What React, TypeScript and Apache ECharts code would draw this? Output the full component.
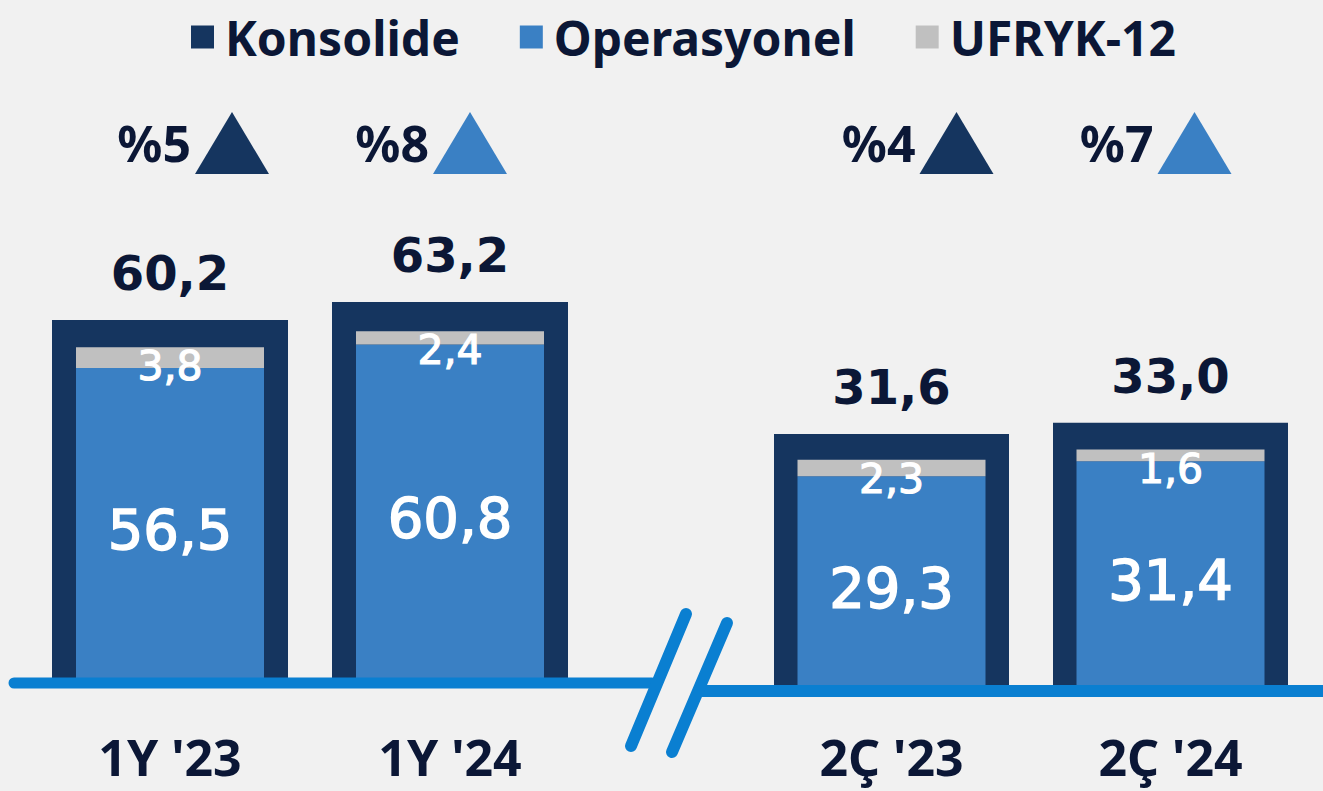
import React, { useEffect, useRef } from "react";
import * as echarts from "echarts";

// ---- data ----
const categoriesLeft = ["1Y '23", "1Y '24"];
const categoriesRight = ["2Ç '23", "2Ç '24"];
const konsolide = [60.2, 63.2, 31.6, 33.0];
const operasyonel = [56.5, 60.8, 29.3, 31.4];
const ufryk = [3.8, 2.4, 2.3, 1.6];
const changeLabels = ["%5", "%8", "%4", "%7"];
const seriesNames = ["Konsolide", "Operasyonel", "UFRYK-12"];

// ---- style ----
const NAVY = "#15355f";
const BLUE = "#3a80c4";
const GRAY = "#c0c0c0";
const TEXT = "#0b1736";
const LINE = "#0a7fd1";
const FONT = "'Noto Sans', 'DejaVu Sans', sans-serif";
const NUMFONT = "'DejaVu Sans', 'Noto Sans', sans-serif";

const fmt = (v: number) => v.toFixed(1).replace(".", ",");

export default function App() {
  const ref = useRef<HTMLDivElement>(null);
  useEffect(() => {
    document.body.style.margin = "0";
    if (!ref.current) return;
    const chart = echarts.init(ref.current, undefined, { renderer: "svg" });

    const outerLabel = {
      show: true,
      position: ["50%", 0],
      align: "center",
      verticalAlign: "middle",
      offset: [0, -47],
      fontFamily: NUMFONT,
      fontSize: 48,
      fontWeight: "bold",
      color: TEXT,
      formatter: (p: any) => fmt(p.value),
    };
    const innerLabel = {
      show: true,
      position: "inside",
      fontFamily: NUMFONT,
      fontSize: 56,
      fontWeight: "normal",
      color: "#ffffff",
      textBorderColor: "#ffffff",
      textBorderWidth: 1.6,
      offset: [0, 5],
      formatter: (p: any) => fmt(p.value),
    };
    const grayLabel = {
      show: true,
      position: ["50%", 0],
      align: "center",
      verticalAlign: "middle",
      offset: [0, 19],
      fontFamily: NUMFONT,
      fontSize: 41,
      fontWeight: "normal",
      color: "#ffffff",
      textBorderColor: "#ffffff",
      textBorderWidth: 1.2,
      formatter: (p: any) => fmt(p.value),
    };
    const pctLabel = (i: number) => ({
      show: true,
      position: "left",
      distance: 4,
      fontFamily: FONT,
      fontSize: 50,
      fontWeight: "bold",
      color: TEXT,
      formatter: () => changeLabels[i],
    });

    const catAxis = (data: string[], gridIndex: number, show: boolean, margin: number) => ({
      type: "category",
      gridIndex,
      data,
      show,
      axisLine: { show: false },
      axisTick: { show: false },
      axisLabel: {
        show,
        margin,
        fontFamily: FONT,
        fontSize: 50,
        fontWeight: "bold",
        color: TEXT,
      },
    });
    const valAxis = (gridIndex: number, max: number) => ({
      type: "value",
      gridIndex,
      min: 0,
      max,
      show: false,
      splitLine: { show: false },
    });

    const option: any = {
      animation: false,
      backgroundColor: "#f1f1f1",
      legend: {
        data: seriesNames,
        top: 8,
        left: 186,
        icon: "rect",
        itemWidth: 23,
        itemHeight: 23,
        itemGap: 60,
        selectedMode: false,
        textStyle: {
          fontFamily: FONT,
          fontSize: 48,
          fontWeight: "bold",
          color: TEXT,
          padding: [0, 0, 0, 6],
        },
      },
      grid: [
        { left: 30, width: 560, top: 82, bottom: 111 },
        { left: 30, width: 560, top: 128, bottom: 111 },
        { left: 752, width: 558, top: 45, bottom: 103 },
        { left: 752, width: 558, top: 110, bottom: 103 },
      ],
      xAxis: [
        catAxis(categoriesLeft, 0, true, 52),
        catAxis(categoriesLeft, 1, false, 0),
        catAxis(categoriesRight, 2, true, 44),
        catAxis(categoriesRight, 3, false, 0),
      ],
      yAxis: [valAxis(0, 100), valAxis(1, 100), valAxis(2, 80), valAxis(3, 80)],
      series: [
        {
          name: seriesNames[0],
          type: "bar",
          xAxisIndex: 0,
          yAxisIndex: 0,
          barWidth: 236,
          itemStyle: { color: NAVY },
          label: outerLabel,
          data: konsolide.slice(0, 2),
          z: 2,
        },
        {
          name: seriesNames[1],
          type: "bar",
          xAxisIndex: 1,
          yAxisIndex: 1,
          stack: "L",
          barWidth: 188,
          itemStyle: { color: BLUE },
          label: innerLabel,
          data: operasyonel.slice(0, 2),
          z: 3,
        },
        {
          name: seriesNames[2],
          type: "bar",
          xAxisIndex: 1,
          yAxisIndex: 1,
          stack: "L",
          barWidth: 188,
          itemStyle: { color: GRAY },
          label: grayLabel,
          data: ufryk.slice(0, 2),
          z: 3,
        },
        {
          name: seriesNames[0],
          type: "bar",
          xAxisIndex: 2,
          yAxisIndex: 2,
          barWidth: 235,
          itemStyle: { color: NAVY },
          label: outerLabel,
          data: konsolide.slice(2, 4),
          z: 2,
        },
        {
          name: seriesNames[1],
          type: "bar",
          xAxisIndex: 3,
          yAxisIndex: 3,
          stack: "R",
          barWidth: 188,
          itemStyle: { color: BLUE },
          label: innerLabel,
          data: operasyonel.slice(2, 4),
          z: 3,
        },
        {
          name: seriesNames[2],
          type: "bar",
          xAxisIndex: 3,
          yAxisIndex: 3,
          stack: "R",
          barWidth: 188,
          itemStyle: { color: GRAY },
          label: grayLabel,
          data: ufryk.slice(2, 4),
          z: 3,
        },
        {
          name: "changeL",
          type: "scatter",
          xAxisIndex: 0,
          yAxisIndex: 0,
          symbol: "triangle",
          symbolSize: [74, 62],
          itemStyle: { opacity: 1 },
          data: [
            { value: [0, 89.8], symbolOffset: [62, 0], itemStyle: { color: NAVY, opacity: 1 }, label: pctLabel(0) },
            { value: [1, 89.8], symbolOffset: [20, 0], itemStyle: { color: BLUE, opacity: 1 }, label: pctLabel(1) },
          ],
          z: 5,
        },
        {
          name: "changeR",
          type: "scatter",
          xAxisIndex: 2,
          yAxisIndex: 2,
          symbol: "triangle",
          symbolSize: [74, 62],
          itemStyle: { opacity: 1 },
          data: [
            { value: [0, 67.8], symbolOffset: [65, 0], itemStyle: { color: NAVY, opacity: 1 }, label: pctLabel(2) },
            { value: [1, 67.8], symbolOffset: [24, 0], itemStyle: { color: BLUE, opacity: 1 }, label: pctLabel(3) },
          ],
          z: 5,
        },
      ],
      graphic: [
        {
          type: "line",
          z: 100,
          shape: { x1: 14, y1: 683, x2: 652, y2: 683 },
          style: { stroke: LINE, lineWidth: 11, lineCap: "round" },
        },
        {
          type: "line",
          z: 100,
          shape: { x1: 700, y1: 691, x2: 1330, y2: 691 },
          style: { stroke: LINE, lineWidth: 12, lineCap: "round" },
        },
        {
          type: "line",
          z: 100,
          shape: { x1: 686, y1: 614, x2: 631, y2: 746 },
          style: { stroke: LINE, lineWidth: 12, lineCap: "round" },
        },
        {
          type: "line",
          z: 100,
          shape: { x1: 727, y1: 623, x2: 672, y2: 752 },
          style: { stroke: LINE, lineWidth: 12, lineCap: "round" },
        },
      ],
    };
    chart.setOption(option);
    return () => chart.dispose();
  }, []);
  return <div ref={ref} style={{ width: 1323, height: 791 }} />;
}
